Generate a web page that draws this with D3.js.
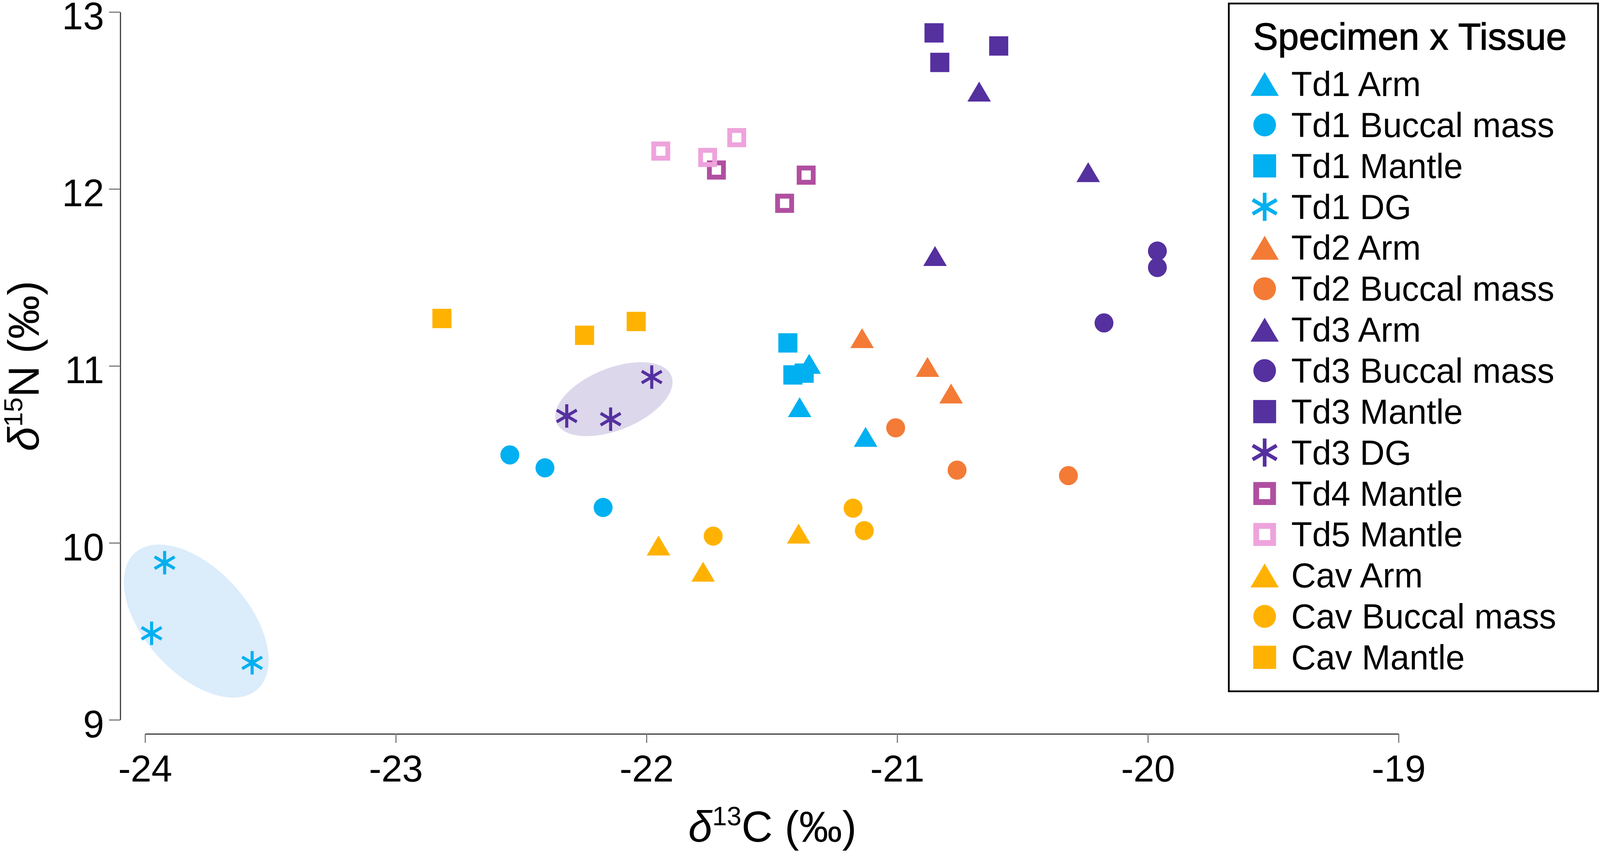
<!DOCTYPE html>
<html>
<head>
<meta charset="utf-8">
<script src="https://cdn.jsdelivr.net/npm/d3@7"></script>
<style>
  html, body { margin: 0; padding: 0; background: #fff; overflow: hidden; }
  #chart { display: block; width: 100vw; height: 100vh; }
  text { font-family: "Liberation Sans", Arial, sans-serif; fill: #000; }
</style>
</head>
<body>
<svg id="chart" viewBox="0 0 4151 2184" preserveAspectRatio="none"></svg>
<script>
// ---- data ----
const groupNames = ["Td1 Arm", "Td1 Buccal mass", "Td1 Mantle", "Td1 DG",
  "Td2 Arm", "Td2 Buccal mass", "Td3 Arm", "Td3 Buccal mass", "Td3 Mantle",
  "Td3 DG", "Td4 Mantle", "Td5 Mantle", "Cav Arm", "Cav Buccal mass", "Cav Mantle"];
const groupShapes = ["triangle", "circle", "square", "asterisk",
  "triangle", "circle", "triangle", "circle", "square",
  "asterisk", "openSquare", "openSquare", "triangle", "circle", "square"];
const groupColors = ["#00B0F0", "#00B0F0", "#00B0F0", "#00B0F0",
  "#F37B36", "#F37B36", "#55309F", "#55309F", "#55309F",
  "#55309F", "#B04FA0", "#EEA3DC", "#FFB201", "#FFB201", "#FFB201"];

const td1ArmC = [-21.351, -21.389, -21.126];
const td1ArmN = [11.012, 10.767, 10.599];
const td1BuccalC = [-22.545, -22.405, -22.173];
const td1BuccalN = [10.497, 10.424, 10.200];
const td1MantleC = [-21.436, -21.416, -21.371];
const td1MantleN = [11.130, 10.949, 10.959];
const td1DgC = [-23.922, -23.974, -23.573];
const td1DgN = [9.888, 9.489, 9.322];
const td2ArmC = [-21.140, -20.879, -20.785];
const td2ArmN = [11.157, 10.994, 10.844];
const td2BuccalC = [-21.006, -20.761, -20.317];
const td2BuccalN = [10.650, 10.411, 10.380];
const td3ArmC = [-20.673, -20.849, -20.238];
const td3ArmN = [12.550, 11.621, 12.095];
const td3BuccalC = [-19.962, -19.962, -20.175];
const td3BuccalN = [11.649, 11.556, 11.243];
const td3MantleC = [-20.853, -20.830, -20.595];
const td3MantleN = [12.882, 12.715, 12.808];
const td3DgC = [-21.979, -22.318, -22.143];
const td3DgN = [10.937, 10.717, 10.699];
const td4MantleC = [-21.721, -21.363, -21.449];
const td4MantleN = [12.107, 12.078, 11.919];
const td5MantleC = [-21.943, -21.756, -21.640];
const td5MantleN = [12.214, 12.178, 12.290];
const cavArmC = [-21.952, -21.774, -21.393];
const cavArmN = [9.985, 9.837, 10.052];
const cavBuccalC = [-21.734, -21.176, -21.131];
const cavBuccalN = [10.038, 10.196, 10.069];
const cavMantleC = [-22.816, -22.247, -22.041];
const cavMantleN = [11.268, 11.173, 11.251];

const seriesC = [td1ArmC, td1BuccalC, td1MantleC, td1DgC, td2ArmC, td2BuccalC,
  td3ArmC, td3BuccalC, td3MantleC, td3DgC, td4MantleC, td5MantleC,
  cavArmC, cavBuccalC, cavMantleC];
const seriesN = [td1ArmN, td1BuccalN, td1MantleN, td1DgN, td2ArmN, td2BuccalN,
  td3ArmN, td3BuccalN, td3MantleN, td3DgN, td4MantleN, td5MantleN,
  cavArmN, cavBuccalN, cavMantleN];

const xTicks = [-24, -23, -22, -21, -20, -19];
const yTicks = [9, 10, 11, 12, 13];

// shaded ellipses round the DG groups: centre, major and minor half-axis vectors (data units)
const ellipseCentres = [[-23.796, 9.558], [-22.130, 10.812]];
const ellipseMajor = [[0.246, -0.383], [0.2296, 0.1305]];
const ellipseMinor = [[-0.1514, -0.2006], [0.0450, -0.1631]];
const ellipseFills = ["#DBECFB", "#DCD7EB"];

// ---- chart ----
const svg = d3.select("#chart");

const x = d3.scaleLinear().domain([-24, -19]).range([376.4, 3628.4]);
const y = d3.scaleLinear().domain([9, 13]).range([1843, 30.7]);

// ellipses
const ellipseLine = d3.line().curve(d3.curveLinearClosed);
ellipseCentres.forEach((c, i) => {
  const pts = d3.range(0, 2 * Math.PI, Math.PI / 90).map(t => {
    const dx = ellipseMajor[i][0] * Math.cos(t) + ellipseMinor[i][0] * Math.sin(t);
    const dy = ellipseMajor[i][1] * Math.cos(t) + ellipseMinor[i][1] * Math.sin(t);
    return [x(c[0] + dx), y(c[1] + dy)];
  });
  svg.append("path")
    .attr("d", ellipseLine(pts))
    .attr("fill", ellipseFills[i]);
});

// axes
const yAxis = svg.append("g")
  .attr("transform", "translate(312,0)")
  .call(d3.axisLeft(y).tickValues(yTicks).tickFormat(d3.format("d"))
    .tickSize(29).tickSizeOuter(0).tickPadding(13));
const xAxis = svg.append("g")
  .attr("transform", "translate(0,1879)")
  .call(d3.axisBottom(x).tickValues(xTicks).tickFormat(d => d)
    .tickSize(23).tickSizeOuter(0).tickPadding(30));

[yAxis, xAxis].forEach(g => {
  g.select(".domain").attr("stroke", "#3a3a3a").attr("stroke-width", 3);
  g.selectAll(".tick line").attr("stroke", "#7a7a7a").attr("stroke-width", 3);
  g.selectAll(".tick text")
    .attr("fill", "#000")
    .style("font-family", "'Liberation Sans', Arial, sans-serif");
});
yAxis.selectAll(".tick text").style("font-size", "98px").attr("dy", "0.45em");
xAxis.selectAll(".tick text").style("font-size", "97px");

// axis titles
const xTitle = svg.append("text")
  .attr("x", 2004).attr("y", 2155)
  .attr("text-anchor", "middle")
  .style("font-size", "112px");
xTitle.append("tspan").style("font-style", "italic").text("δ");
xTitle.append("tspan").attr("dy", -42).style("font-size", "68px").text("13");
xTitle.append("tspan").attr("dy", 42).text("C (‰)");

const yTitle = svg.append("text")
  .attr("transform", "translate(100,937) rotate(-90)")
  .attr("text-anchor", "middle")
  .style("font-size", "112px");
yTitle.append("tspan").style("font-style", "italic").text("δ");
yTitle.append("tspan").attr("dy", -42).style("font-size", "68px").text("15");
yTitle.append("tspan").attr("dy", 42).text("N (‰)");

// marker drawing
function drawMarker(g, shape, color, k) {
  if (shape === "circle") {
    g.append("circle").attr("r", 24.5 * k).attr("fill", color);
  } else if (shape === "square") {
    const s = 49.5 * k;
    g.append("rect").attr("x", -s / 2).attr("y", -s / 2)
      .attr("width", s).attr("height", s).attr("fill", color);
  } else if (shape === "openSquare") {
    const sw = 12.5 * k, s = 49 * k - sw;
    g.append("rect").attr("x", -s / 2).attr("y", -s / 2)
      .attr("width", s).attr("height", s)
      .attr("fill", "none").attr("stroke", color).attr("stroke-width", sw);
  } else if (shape === "triangle") {
    const w = 61 * k, h = 51 * k;
    const p = d3.path();
    p.moveTo(0, -h / 2); p.lineTo(w / 2, h / 2); p.lineTo(-w / 2, h / 2); p.closePath();
    g.append("path").attr("d", p.toString()).attr("fill", color);
  } else if (shape === "asterisk") {
    const r = 30 * k;
    const p = d3.path();
    [90, 30, -30].forEach(a => {
      const t = a * Math.PI / 180;
      p.moveTo(-r * Math.cos(t), -r * Math.sin(t));
      p.lineTo(r * Math.cos(t), r * Math.sin(t));
    });
    g.append("path").attr("d", p.toString())
      .attr("stroke", color).attr("stroke-width", 8 * k).attr("fill", "none");
  }
}

// points
groupNames.forEach((name, gi) => {
  const pts = seriesC[gi].map((c, j) => ({ c: c, n: seriesN[gi][j] }));
  svg.append("g").selectAll("g")
    .data(pts)
    .join("g")
      .attr("transform", d => `translate(${x(d.c)},${y(d.n)})`)
      .each(function () { drawMarker(d3.select(this), groupShapes[gi], groupColors[gi], 1); });
});

// legend
const legend = svg.append("g");
legend.append("rect")
  .attr("x", 3188).attr("y", 9)
  .attr("width", 4146 - 3188).attr("height", 1761)
  .attr("fill", "#fff").attr("stroke", "#000").attr("stroke-width", 4.5);
legend.append("text")
  .attr("x", 3251).attr("y", 127)
  .style("font-size", "97px")
  .attr("stroke", "#000").attr("stroke-width", 1.5)
  .text("Specimen x Tissue");

const rowY = d3.scaleLinear().domain([0, 14]).range([246, 1714]);
groupNames.forEach((name, gi) => {
  const row = legend.append("g").attr("transform", `translate(0,${rowY(gi)})`);
  const m = row.append("g").attr("transform", "translate(3281,-31)");
  drawMarker(m, groupShapes[gi], groupColors[gi], 1.2);
  row.append("text").attr("x", 3350).attr("y", 0)
    .style("font-size", "89px").text(name);
});
</script>
</body>
</html>
